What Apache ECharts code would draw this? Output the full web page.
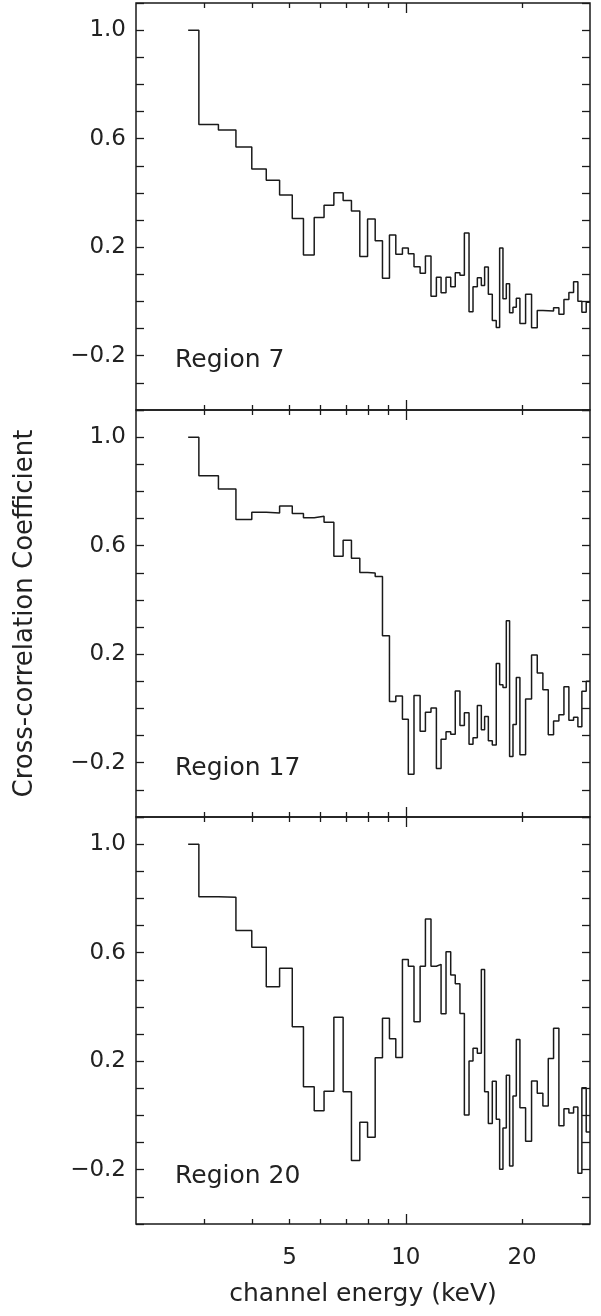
<!DOCTYPE html>
<html><head><meta charset="utf-8">
<script src="https://cdn.jsdelivr.net/npm/echarts@6/dist/echarts.min.js"></script>
<style>html,body{margin:0;padding:0;background:#fff}#c{width:601px;height:1316px}</style>
</head><body><div id="c"></div>
<script>
// Channel bin edges (keV), shared by all three panels
const energyEdges = [2.73, 2.91, 3.27, 3.63, 3.99, 4.35, 4.71, 5.08, 5.43, 5.79, 6.14, 6.51, 6.88, 7.23, 7.60, 7.96, 8.33, 8.70, 9.07, 9.42, 9.80, 10.15, 10.50, 10.89, 11.24, 11.62, 12.00, 12.34, 12.71, 13.07, 13.43, 13.81, 14.18, 14.58, 14.93, 15.32, 15.69, 16.00, 16.36, 16.75, 17.15, 17.50, 17.85, 18.21, 18.57, 18.95, 19.33, 19.75, 20.43, 21.17, 21.90, 22.65, 23.39, 24.14, 24.92, 25.68, 26.45, 27.20, 27.91, 28.58, 29.33, 30.0];

// Cross-correlation coefficient per channel bin
const region7 = [1.00, 0.652, 0.632, 0.569, 0.488, 0.447, 0.392, 0.306, 0.171, 0.309,
  0.355, 0.401, 0.372, 0.333, 0.166, 0.304, 0.224, 0.086, 0.245, 0.174,
  0.197, 0.176, 0.128, 0.104, 0.168, 0.019, 0.089, 0.032, 0.089, 0.054,
  0.106, 0.097, 0.252, -0.038, 0.054, 0.087, 0.059, 0.127, 0.027, -0.070,
  -0.096, 0.197, 0.010, 0.065, -0.042, -0.021, 0.012, -0.081, 0.027, -0.097,
  -0.033, -0.034, -0.035, -0.023, -0.047, 0.007, 0.033, 0.073, 0.001, -0.040, -0.003];
const region17 = [1.00, 0.858, 0.809, 0.696, 0.723, 0.720, 0.746, 0.719, 0.703, 0.708,
  0.686, 0.561, 0.620, 0.554, 0.501, 0.499, 0.486, 0.268, 0.026, 0.046,
  -0.040, -0.242, 0.048, -0.084, -0.014, 0.002, -0.221, -0.113, -0.086, -0.095,
  0.064, -0.063, -0.016, -0.132, -0.108, 0.011, -0.078, -0.030, -0.119, -0.135,
  0.166, 0.087, 0.077, 0.323, -0.177, -0.059, 0.114, -0.171, 0.035, 0.197,
  0.131, 0.069, -0.097, -0.046, -0.023, 0.080, -0.043, -0.032, -0.067, 0.063, 0.100];
const region20 = [1.00, 0.806, 0.804, 0.682, 0.620, 0.474, 0.543, 0.327, 0.106, 0.017,
  0.089, 0.362, 0.087, -0.166, -0.025, -0.080, 0.213, 0.358, 0.283, 0.214,
  0.575, 0.550, 0.345, 0.550, 0.724, 0.550, 0.557, 0.375, 0.603, 0.518,
  0.485, 0.376, 0.002, 0.201, 0.248, 0.229, 0.538, 0.087, -0.030, 0.126,
  -0.014, -0.198, -0.046, 0.148, -0.186, 0.072, 0.280, 0.028, -0.095, 0.127,
  0.082, 0.035, 0.210, 0.321, -0.038, 0.025, 0.009, 0.031, -0.213, 0.102, -0.061];

const panelNames = ['Region 7', 'Region 17', 'Region 20'];
const panelValues = [region7, region17, region20];

// Axis ticks and labels
const xRange = [2, 30];
const xMinorTicks = [3, 4, 5, 6, 7, 8, 9, 20];
const xMajorTicks = [10];
const xTickLabels = [5, 10, 20];
const yRange = [-0.4, 1.1];
const yTickStep = 0.1;
const yTickLabels = [-0.2, 0.2, 0.6, 1.0];
const xTitle = 'channel energy (keV)';
const yTitle = 'Cross-correlation Coefficient';

// ---------- layout / style ----------
const FONT = 'DejaVu Sans';
const INK = '#1a1a1a';
const gridTops = [3, 410, 817];
const gridH = 407;
const gridLeft = 136, gridRight = 11;
const labelY = [360, 768, 1176];

function stepData(vals) {
  const d = vals.map((v, i) => [energyEdges[i], v]);
  d.push([energyEdges[energyEdges.length - 1], vals[vals.length - 1]]);
  return d;
}
const lg = Math.log10;
const fmtY = v => (v < 0 ? '\u2212' : '') + Math.abs(v).toFixed(1);

const grid = [], xAxis = [], yAxis = [], series = [], graphic = [];
for (let i = 0; i < 3; i++) {
  grid.push({ left: gridLeft, right: gridRight, top: gridTops[i], height: gridH,
    show: true, borderColor: INK, borderWidth: 1.5, backgroundColor: 'transparent' });
  const base = xAxis.length;
  // data axis (log)
  xAxis.push({ type: 'log', gridIndex: i, logBase: 10, min: xRange[0], max: xRange[1], position: 'bottom',
    axisLine: { show: false, onZero: false }, axisTick: { show: false }, axisLabel: { show: false }, splitLine: { show: false } });
  const tickAx = (pos, vals, len, labels) => ({
    type: 'value', gridIndex: i, min: lg(xRange[0]), max: lg(xRange[1]), position: pos,
    axisLine: { show: false, onZero: false }, splitLine: { show: false },
    axisTick: { show: true, inside: true, length: len, customValues: vals.map(lg), lineStyle: { color: INK, width: 1.3 } },
    axisLabel: labels ? { show: true, customValues: xTickLabels.map(lg), formatter: v => String(Math.round(Math.pow(10, v))),
      margin: 23, fontSize: 23, fontFamily: FONT, color: '#222' } : { show: false }
  });
  const bottomMinor = tickAx('bottom', xMinorTicks, 5, i === 2);
  if (i === 2) {
    bottomMinor.name = xTitle; bottomMinor.nameLocation = 'middle'; bottomMinor.nameGap = 58;
    bottomMinor.nameTextStyle = { fontSize: 25, fontFamily: FONT, color: '#222' };
  }
  xAxis.push(bottomMinor);
  xAxis.push(tickAx('bottom', xMajorTicks, 10, false));
  xAxis.push(tickAx('top', xMinorTicks, 5, false));
  xAxis.push(tickAx('top', xMajorTicks, 10, false));

  const ybase = yAxis.length;
  const left = { type: 'value', gridIndex: i, min: yRange[0], max: yRange[1], interval: yTickStep, position: 'left',
    axisLine: { show: false, onZero: false }, splitLine: { show: false },
    axisTick: { show: true, inside: true, length: 8, lineStyle: { color: INK, width: 1.3 } },
    axisLabel: { show: true, customValues: yTickLabels, formatter: fmtY, margin: 10, fontSize: 23, fontFamily: FONT, color: '#222' } };
  if (i === 1) {
    left.name = yTitle; left.nameLocation = 'middle'; left.nameGap = 98;
    left.nameTextStyle = { fontSize: 26, fontFamily: FONT, color: '#222' };
  }
  yAxis.push(left);
  yAxis.push({ type: 'value', gridIndex: i, min: yRange[0], max: yRange[1], interval: yTickStep, position: 'right',
    axisLine: { show: false, onZero: false }, splitLine: { show: false },
    axisTick: { show: true, inside: true, length: 8, lineStyle: { color: INK, width: 1.3 } },
    axisLabel: { show: false } });

  series.push({ type: 'line', name: panelNames[i], xAxisIndex: base, yAxisIndex: ybase,
    data: stepData(panelValues[i]), step: 'end', showSymbol: false, symbol: 'none',
    lineStyle: { color: INK, width: 1.5 }, animation: false, silent: true, clip: true });

  graphic.push({ type: 'text', x: 175, y: labelY[i],
    style: { text: panelNames[i], fontSize: 25, fontFamily: FONT, fill: '#222', verticalAlign: 'middle', textVerticalAlign: 'middle' } });
}

const chart = echarts.init(document.getElementById('c'), null, { renderer: 'canvas' });
chart.setOption({ backgroundColor: '#fff', animation: false, grid, xAxis, yAxis, series, graphic });
</script>
</body></html>
